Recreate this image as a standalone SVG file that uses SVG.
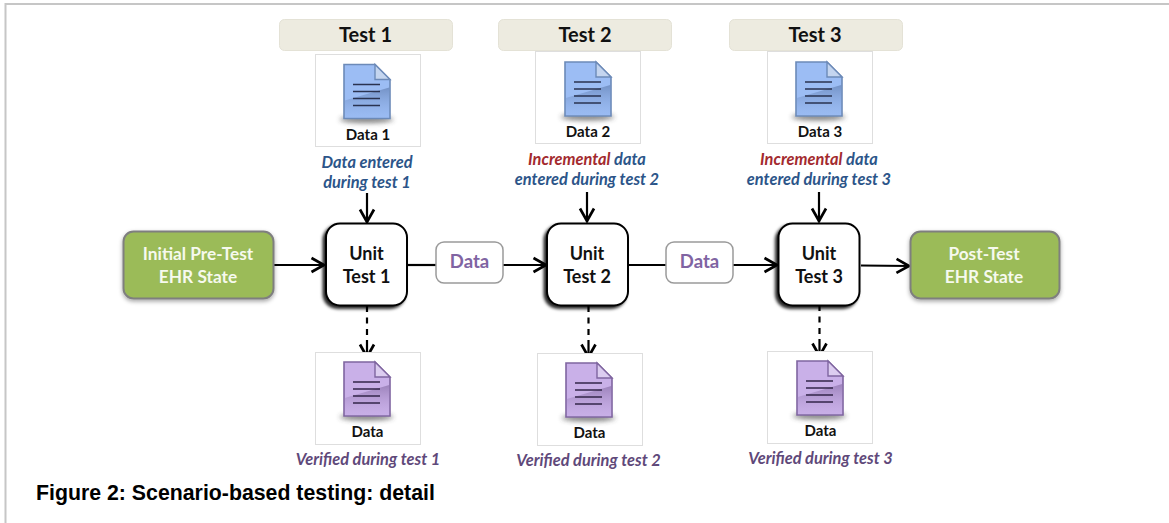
<svg xmlns="http://www.w3.org/2000/svg" width="1169" height="523" viewBox="0 0 1169 523">
<style>
text{text-anchor:middle;font-family:"Lato","Open Sans",sans-serif}
.hdr{fill:#edebe0;stroke:#e4e2d6;stroke-width:1}
.hdrt{font-size:20px;font-weight:700;fill:#111}
.frame{fill:#fff;stroke:#dedede;stroke-width:1}
.lbl{font-size:15px;font-weight:700;fill:#111}
.unit{fill:#fff;stroke:#000;stroke-width:2}
.unitt{font-size:18px;font-weight:700;fill:#111}
.green{fill:#9bbb59;stroke:#7f7f7f;stroke-width:2}
.gt{font-size:17.300px;font-weight:700;fill:#f6f9ee}
.pill{fill:#fff;stroke:#9a9a9a;stroke-width:1.500}
.pt{font-size:18.500px;font-weight:700;fill:#8064a2}
.blue{font-size:16.400px;font-weight:700;font-style:italic;fill:#2c5589}
.red{fill:#a32a2e}
.pur{font-size:16.400px;font-weight:700;font-style:italic;fill:#5f497a}
.c{fill:none;stroke:#000;stroke-width:2.200}
.d{stroke-dasharray:6 5.500 6 5.500 6 5 18}
</style>
<defs>
<marker id="arr" markerUnits="userSpaceOnUse" markerWidth="18" markerHeight="20" refX="15" refY="9" orient="auto">
<path d="M1.500 2L14 9L1.500 16" fill="none" stroke="#000" stroke-width="2.700"/>
</marker>
<filter id="sh" x="-20%" y="-20%" width="140%" height="140%"><feDropShadow dx="-2.500" dy="2.500" stdDeviation="1.800" flood-color="#000" flood-opacity=".85"/></filter>
<filter id="sg" x="-10%" y="-20%" width="120%" height="140%"><feDropShadow dx="0" dy="2" stdDeviation="2" flood-color="#000" flood-opacity=".35"/></filter>
<filter id="bl" x="-30%" y="-200%" width="160%" height="500%"><feGaussianBlur stdDeviation="2.500"/></filter>
<linearGradient id="ob" x1="0" y1="0" x2="0" y2="1"><stop offset="0" stop-color="#5f7cae" stop-opacity=".65"/><stop offset="1" stop-color="#8fb0e8" stop-opacity=".15"/></linearGradient>
<linearGradient id="op" x1="0" y1="0" x2="0" y2="1"><stop offset="0" stop-color="#846aa3" stop-opacity=".65"/><stop offset="1" stop-color="#c2a8e0" stop-opacity=".15"/></linearGradient>
<g id="docb">
<ellipse cx="22.500" cy="55" rx="27" ry="3.500" fill="#333" opacity=".6" filter="url(#bl)"/>
<path d="M0 0H31L46 15V54H0Z" fill="#9cbdf4" stroke="#6c8ab8" stroke-width="1.600"/>
<path d="M0.800 36L45.200 23V53.200H0.800Z" fill="url(#ob)"/>
<path d="M31 0V15H46Z" fill="#c4d5ef" stroke="#6c8ab8" stroke-width="1.400"/>
<path d="M9 20H36M9 27H36M9 34H36M9 41H36" stroke="#2a3350" stroke-width="1.700"/>
</g>
<g id="docp">
<ellipse cx="22.500" cy="55" rx="27" ry="3.500" fill="#333" opacity=".6" filter="url(#bl)"/>
<path d="M0 0H31L46 15V54H0Z" fill="#c9b0e8" stroke="#7f65a0" stroke-width="1.600"/>
<path d="M0.800 36L45.200 23V53.200H0.800Z" fill="url(#op)"/>
<path d="M31 0V15H46Z" fill="#dccdf0" stroke="#7f65a0" stroke-width="1.400"/>
<path d="M9 20H36M9 27H36M9 34H36M9 41H36" stroke="#33264a" stroke-width="1.700"/>
</g>
</defs>
<path d="M1169 4H5.500V523" fill="none" stroke="#c6c6c6" stroke-width="2"/>

<g id="connectors">
<path class="c" marker-end="url(#arr)" d="M273 265H325"/>
<path class="c" d="M408 265H436"/>
<path class="c" marker-end="url(#arr)" d="M503 265H547"/>
<path class="c" d="M629 265H666"/>
<path class="c" marker-end="url(#arr)" d="M733 265H778"/>
<path class="c" marker-end="url(#arr)" d="M861 265.500L910 266"/>
<path class="c" marker-end="url(#arr)" d="M367 193V223"/>
<path class="c" marker-end="url(#arr)" d="M587 192V222"/>
<path class="c" marker-end="url(#arr)" d="M819 192V222"/>
<path class="c d" marker-end="url(#arr)" d="M367 306V358"/>
<path class="c d" marker-end="url(#arr)" d="M588.500 306V358"/>
<path class="c d" marker-end="url(#arr)" d="M819.500 305V357"/>
</g>

<g id="test1"><rect class="hdr" x="279.500" y="19.500" width="173" height="31" rx="5"/><text class="hdrt" x="365.500" y="42">Test 1</text></g>
<g id="test2"><rect class="hdr" x="498.500" y="19.500" width="173" height="31" rx="5"/><text class="hdrt" x="585" y="42">Test 2</text></g>
<g id="test3"><rect class="hdr" x="729.500" y="19.500" width="173" height="31" rx="5"/><text class="hdrt" x="815" y="42">Test 3</text></g>

<g id="data1">
<rect class="frame" x="315.500" y="54.500" width="105" height="92"/>
<use href="#docb" x="344" y="64.500"/>
<text class="lbl" x="368" y="140">Data 1</text>
<text class="blue" x="367" y="168">Data entered</text>
<text class="blue" x="367" y="188">during test 1</text>
</g>
<g id="data2">
<rect class="frame" x="535.500" y="51.500" width="105" height="92"/>
<use href="#docb" x="565" y="62"/>
<text class="lbl" x="588" y="137">Data 2</text>
<text class="blue" x="587" y="165"><tspan class="red">Incremental</tspan> data</text>
<text class="blue" x="587" y="185">entered during test 2</text>
</g>
<g id="data3">
<rect class="frame" x="767.500" y="51.500" width="105" height="92"/>
<use href="#docb" x="796" y="62"/>
<text class="lbl" x="820" y="137">Data 3</text>
<text class="blue" x="819" y="165"><tspan class="red">Incremental</tspan> data</text>
<text class="blue" x="819" y="185">entered during test 3</text>
</g>

<g id="initial"><rect class="green" filter="url(#sg)" x="123.500" y="231.500" width="150" height="67" rx="10"/><text class="gt" x="198" y="260">Initial Pre-Test</text><text class="gt" x="198" y="283">EHR State</text></g>
<g id="unit1"><rect class="unit" filter="url(#sh)" x="326" y="223.500" width="81" height="82" rx="14"/><text class="unitt" x="366.500" y="260">Unit</text><text class="unitt" x="366.500" y="283">Test 1</text></g>
<g id="unit2"><rect class="unit" filter="url(#sh)" x="547" y="223.500" width="81" height="82" rx="14"/><text class="unitt" x="587" y="260">Unit</text><text class="unitt" x="587" y="283">Test 2</text></g>
<g id="unit3"><rect class="unit" filter="url(#sh)" x="778.500" y="223.500" width="81" height="82" rx="14"/><text class="unitt" x="819" y="260">Unit</text><text class="unitt" x="819" y="283">Test 3</text></g>
<g id="flow1"><rect class="pill" x="436" y="242" width="67" height="41" rx="8"/><text class="pt" x="469.500" y="268">Data</text></g>
<g id="flow2"><rect class="pill" x="666" y="242" width="67" height="41" rx="8"/><text class="pt" x="699.500" y="268">Data</text></g>
<g id="post"><rect class="green" filter="url(#sg)" x="910.500" y="231.500" width="149" height="67" rx="10"/><text class="gt" x="984" y="260">Post-Test</text><text class="gt" x="984" y="283">EHR State</text></g>

<g id="verified1">
<rect class="frame" x="315.500" y="352.500" width="105" height="92"/>
<use href="#docp" x="344" y="362"/>
<text class="lbl" x="367.500" y="437">Data</text>
<text class="pur" x="368" y="465">Verified during test 1</text>
</g>
<g id="verified2">
<rect class="frame" x="537.500" y="353.500" width="105" height="92"/>
<use href="#docp" x="566" y="363"/>
<text class="lbl" x="589.500" y="438">Data</text>
<text class="pur" x="588.500" y="466">Verified during test 2</text>
</g>
<g id="verified3">
<rect class="frame" x="767.500" y="351.500" width="105" height="92"/>
<use href="#docp" x="797" y="361"/>
<text class="lbl" x="820.500" y="436">Data</text>
<text class="pur" x="820.500" y="464">Verified during test 3</text>
</g>
<text x="36" y="500" style="text-anchor:start;font-family:'Liberation Sans',Arial,sans-serif;font-size:21.300px;font-weight:700;fill:#000">Figure 2: Scenario-based testing: detail</text>
</svg>
